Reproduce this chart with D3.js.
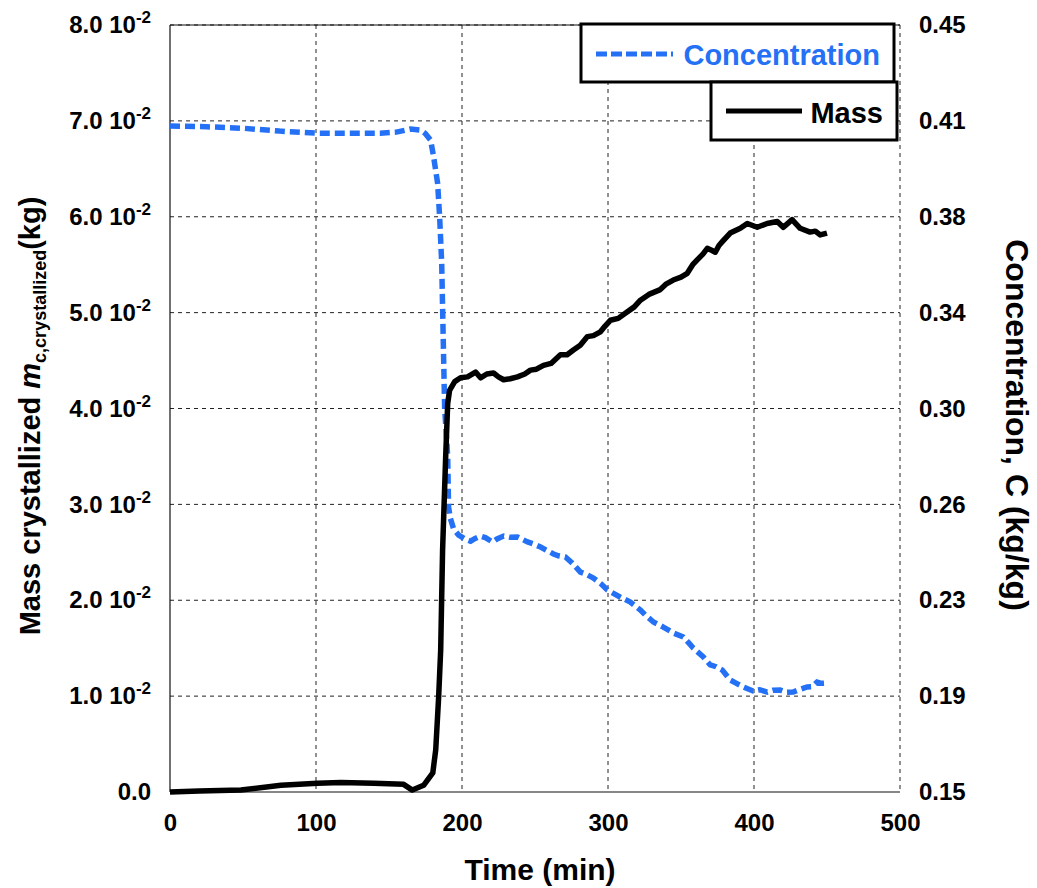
<!DOCTYPE html>
<html>
<head>
<meta charset="utf-8">
<script src="https://cdn.jsdelivr.net/npm/d3@7"></script>
<style>
  body { margin: 0; background: #fff; }
  svg text { font-family: "Liberation Sans", Arial, sans-serif; font-weight: bold; }
</style>
</head>
<body>
<svg id="chart" width="1037" height="888"></svg>
<script>
// mass crystallized (kg) vs time (min)
var massTime = [0, 20, 48.6, 76, 101, 117, 139.5, 160, 166, 173.7, 180, 182, 184, 185.4, 186.7, 188.8, 190.2, 191.5,
    195, 199, 203.8, 209.3, 212.7, 217, 221.6, 225, 228.5, 233, 238, 243, 246.9, 251, 255.8, 261, 267.4, 272,
    276.3, 281, 285.9, 290, 294.8, 298, 301.6, 307, 313.3, 318, 322.2, 328, 335.8, 340, 344.7, 350, 354.3, 358,
    361.1, 365, 368, 371, 373.5, 376, 378.3, 383.7, 390.6, 395.4, 402.2, 409, 415.9, 420, 426.1, 431.6, 438.4,
    442, 445.3, 450]
var massValue = [0, 0.0001, 0.0002, 0.0007, 0.0009, 0.0010, 0.0009, 0.0008, 0.0002, 0.0007, 0.0020, 0.0044, 0.0099,
    0.0148, 0.0252, 0.0349, 0.0405, 0.0419, 0.0428, 0.0432, 0.0433, 0.0438, 0.0432, 0.0436, 0.0437, 0.0433,
    0.0430, 0.0431, 0.0433, 0.0436, 0.0440, 0.0441, 0.0445, 0.0447, 0.0456, 0.0456, 0.0461, 0.0466, 0.0475,
    0.0476, 0.0480, 0.0486, 0.0492, 0.0494, 0.0501, 0.0506, 0.0513, 0.0519, 0.0524, 0.0530, 0.0534, 0.0537,
    0.0541, 0.0550, 0.0555, 0.0561, 0.0567, 0.0565, 0.0563, 0.0570, 0.0574, 0.0583, 0.0588, 0.0593, 0.0589,
    0.0593, 0.0595, 0.0589, 0.0597, 0.0588, 0.0584, 0.0585, 0.0581, 0.0583]

// concentration (kg/kg) vs time (min)
var concTime = [0, 25, 50.6, 75, 100, 125, 144, 155, 164.8, 171.7, 175, 178.5, 180.6, 183.3, 184.7, 186.1, 186.7,
    187.4, 188.1, 190.2, 190.8, 192, 194.3, 197.7, 202, 205.9, 209, 212.7, 216, 220.9, 224, 228.5, 233, 238, 241,
    244.9, 249, 253.8, 258, 262.7, 266, 270.9, 275.6, 281.1, 285, 290, 295, 299.6, 304, 308.5, 315.3, 322.2, 326,
    331.1, 337.9, 344.7, 351.6, 355, 358.4, 365.3, 370, 374, 378.3, 383.7, 388, 392.6, 399.4, 404, 409, 413,
    417.9, 422, 426.8, 431, 436.4, 440, 443.2, 446, 448.7]
var concValue = [0.4105, 0.4102, 0.4096, 0.4085, 0.4077, 0.4077, 0.4077, 0.4081, 0.4093, 0.4089, 0.4075, 0.4050,
    0.3983, 0.3881, 0.3748, 0.3568, 0.3396, 0.3201, 0.3005, 0.2810, 0.2614, 0.2571, 0.2528, 0.2505, 0.2490,
    0.2481, 0.2492, 0.2501, 0.2495, 0.2478, 0.2490, 0.2501, 0.2496, 0.2497, 0.2489, 0.2478, 0.2470, 0.2458,
    0.2445, 0.2431, 0.2424, 0.2419, 0.2395, 0.2360, 0.2352, 0.2337, 0.2315, 0.2290, 0.2276, 0.2262, 0.2243,
    0.2212, 0.2190, 0.2165, 0.2145, 0.2122, 0.2106, 0.2085, 0.2063, 0.2028, 0.1997, 0.1990, 0.1977, 0.1938,
    0.1925, 0.1911, 0.1895, 0.1900, 0.1891, 0.1898, 0.1899, 0.1890, 0.1891, 0.1900, 0.1911, 0.1912, 0.1930,
    0.1925, 0.1926]

var xTicks = [0, 100, 200, 300, 400, 500]
var leftTicks = [0, 0.01, 0.02, 0.03, 0.04, 0.05, 0.06, 0.07, 0.08]
var leftTickMantissa = ["0.0", "1.0", "2.0", "3.0", "4.0", "5.0", "6.0", "7.0", "8.0"]
var rightTicks = [0.15, 0.1875, 0.225, 0.2625, 0.3, 0.3375, 0.375, 0.4125, 0.45]
var rightTickLabels = ["0.15", "0.19", "0.23", "0.26", "0.30", "0.34", "0.38", "0.41", "0.45"]
var legendLabels = ["Concentration", "Mass"]

var dimensions = {
    width: 1037,
    height: 888,
    margin: { top: 25, bottom: 96, left: 170, right: 137 }
}
var plotRight = dimensions.width - dimensions.margin.right
var plotBottom = dimensions.height - dimensions.margin.bottom
var blue = "#2571f5"

var svg = d3.select("#chart")

var xScale = d3.scaleLinear().domain([0, 500]).range([dimensions.margin.left, plotRight])
var yLeft = d3.scaleLinear().domain([0, 0.08]).range([plotBottom, dimensions.margin.top])
var yRight = d3.scaleLinear().domain([0.15, 0.45]).range([plotBottom, dimensions.margin.top])

// gridlines
svg.append("g")
    .selectAll("line")
    .data(leftTicks.slice(1))
    .enter()
    .append("line")
    .attr("x1", dimensions.margin.left)
    .attr("x2", plotRight)
    .attr("y1", d => yLeft(d))
    .attr("y2", d => yLeft(d))
    .attr("stroke", "#222")
    .attr("stroke-width", 1)
    .attr("stroke-dasharray", "4,4")

svg.append("g")
    .selectAll("line")
    .data(xTicks.slice(1))
    .enter()
    .append("line")
    .attr("x1", d => xScale(d))
    .attr("x2", d => xScale(d))
    .attr("y1", dimensions.margin.top)
    .attr("y2", plotBottom)
    .attr("stroke", "#222")
    .attr("stroke-width", 1)
    .attr("stroke-dasharray", "4,4")

// frame (left, bottom, top solid)
svg.append("line")
    .attr("x1", dimensions.margin.left).attr("x2", dimensions.margin.left)
    .attr("y1", dimensions.margin.top).attr("y2", plotBottom)
    .attr("stroke", "#111").attr("stroke-width", 1.2)
svg.append("line")
    .attr("x1", dimensions.margin.left).attr("x2", plotRight)
    .attr("y1", plotBottom).attr("y2", plotBottom)
    .attr("stroke", "#111").attr("stroke-width", 1.2)
svg.append("line")
    .attr("x1", dimensions.margin.left).attr("x2", plotRight)
    .attr("y1", dimensions.margin.top).attr("y2", dimensions.margin.top)
    .attr("stroke", "#111").attr("stroke-width", 1.2)

// lines
var concData = concTime.map((t, i) => [t, concValue[i]])
var massData = massTime.map((t, i) => [t, massValue[i]])

svg.append("path")
    .datum(concData)
    .attr("fill", "none")
    .attr("stroke", blue)
    .attr("stroke-width", 5.5)
    .attr("stroke-dasharray", "10,5")
    .attr("d", d3.line().x(d => xScale(d[0])).y(d => yRight(d[1])))

svg.append("path")
    .datum(massData)
    .attr("fill", "none")
    .attr("stroke", "#000")
    .attr("stroke-width", 5.5)
    .attr("stroke-linejoin", "round")
    .attr("d", d3.line().x(d => xScale(d[0])).y(d => yLeft(d[1])))

// axes
var xAxisGen = d3.axisBottom(xScale).tickValues(xTicks).tickSize(0).tickPadding(22)
var xAxis = svg.append("g")
    .attr("transform", `translate(0, ${plotBottom})`)
    .call(xAxisGen)
xAxis.select(".domain").remove()
xAxis.selectAll("text").attr("font-size", 24).attr("fill", "#000")

var leftAxisGen = d3.axisLeft(yLeft).tickValues(leftTicks).tickSize(0).tickPadding(19).tickFormat("")
var leftAxis = svg.append("g")
    .attr("transform", `translate(${dimensions.margin.left}, 0)`)
    .call(leftAxisGen)
leftAxis.select(".domain").remove()
leftAxis.selectAll(".tick text")
    .attr("font-size", 24)
    .attr("fill", "#000")
    .each(function(d, i) {
        var t = d3.select(this)
        if (d === 0) {
            t.text(leftTickMantissa[i])
        } else {
            t.append("tspan").text(leftTickMantissa[i] + " 10")
            t.append("tspan").attr("dy", -10).attr("font-size", 17).text("-2")
        }
    })

var rightAxisGen = d3.axisRight(yRight).tickValues(rightTicks).tickSize(0).tickPadding(19)
    .tickFormat((d, i) => rightTickLabels[i])
var rightAxis = svg.append("g")
    .attr("transform", `translate(${plotRight}, 0)`)
    .call(rightAxisGen)
rightAxis.select(".domain").remove()
rightAxis.selectAll("text").attr("font-size", 24).attr("fill", "#000")

// axis titles
svg.append("text")
    .attr("x", 540)
    .attr("y", 880)
    .attr("text-anchor", "middle")
    .attr("font-size", 30)
    .text("Time (min)")

var leftTitle = svg.append("text")
    .attr("transform", "translate(40, 416) rotate(-90)")
    .attr("text-anchor", "middle")
    .attr("font-size", 29)
leftTitle.append("tspan").text("Mass crystallized ")
leftTitle.append("tspan").attr("font-style", "italic").text("m")
leftTitle.append("tspan").attr("font-size", 18).attr("dy", 6).text("c,crystallized")
leftTitle.append("tspan").attr("dy", -6).text("(kg)")

svg.append("text")
    .attr("transform", "translate(1006, 425) rotate(90)")
    .attr("text-anchor", "middle")
    .attr("font-size", 32)
    .text("Concentration, C (kg/kg)")

// legend
var legendBoxes = [
    { x: 581, y: 24, w: 313, h: 58 },
    { x: 711, y: 82, w: 186, h: 58 }
]
var legend = svg.append("g")
legend.selectAll("rect")
    .data(legendBoxes)
    .enter()
    .append("rect")
    .attr("x", d => d.x).attr("y", d => d.y)
    .attr("width", d => d.w).attr("height", d => d.h)
    .attr("fill", "#fff")
    .attr("stroke", "#000")
    .attr("stroke-width", 3)

legend.append("line")
    .attr("x1", 596).attr("x2", 673).attr("y1", 54).attr("y2", 54)
    .attr("stroke", blue).attr("stroke-width", 5).attr("stroke-dasharray", "11,4")
legend.append("text")
    .attr("x", 880).attr("y", 65)
    .attr("text-anchor", "end")
    .attr("font-size", 29)
    .attr("fill", blue)
    .text(legendLabels[0])

legend.append("line")
    .attr("x1", 726).attr("x2", 802).attr("y1", 111).attr("y2", 111)
    .attr("stroke", "#000").attr("stroke-width", 5)
legend.append("text")
    .attr("x", 883).attr("y", 123)
    .attr("text-anchor", "end")
    .attr("font-size", 29)
    .attr("fill", "#000")
    .text(legendLabels[1])
</script>
</body>
</html>
